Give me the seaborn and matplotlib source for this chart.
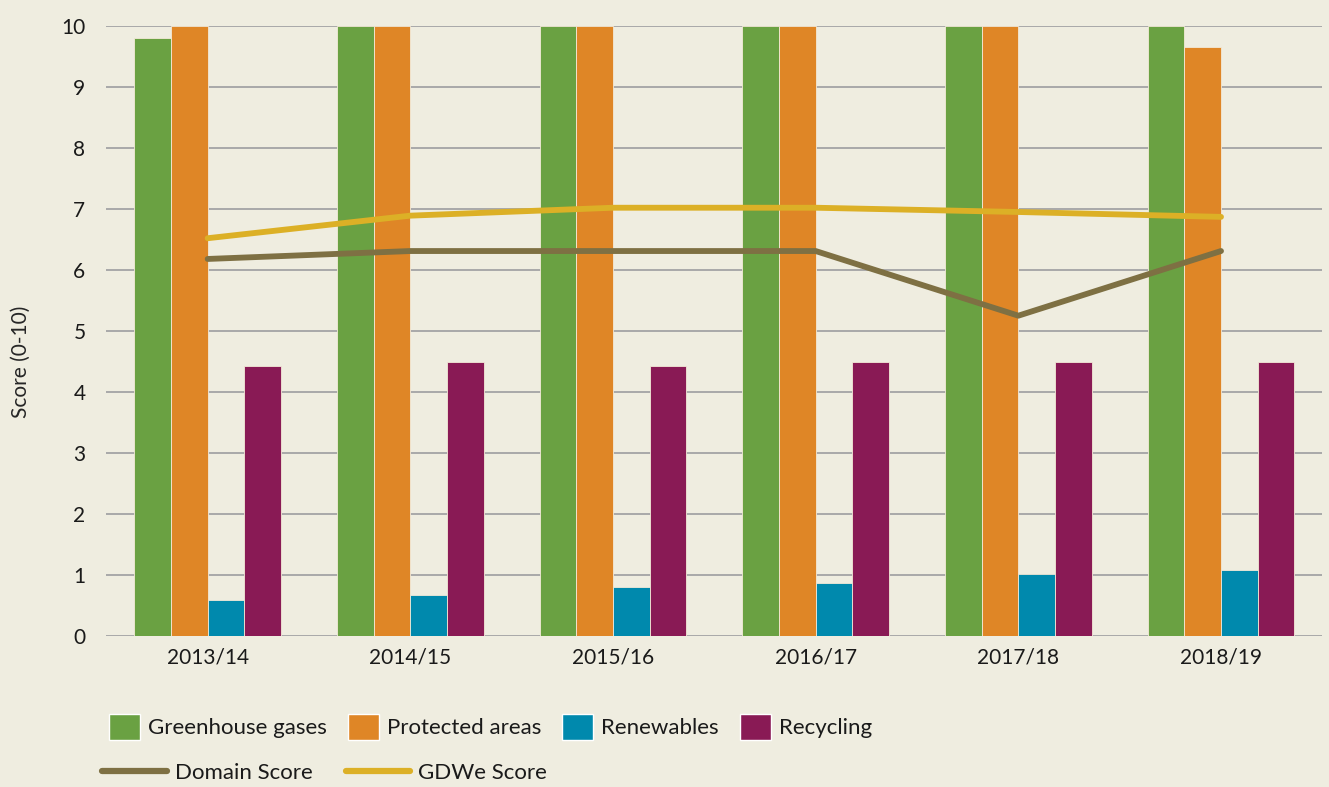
import pandas as pd
import seaborn as sns
import matplotlib.pyplot as plt
from matplotlib.patches import Patch
from matplotlib.lines import Line2D

# values
years = ['2013/14', '2014/15', '2015/16', '2016/17', '2017/18', '2018/19']
greenhouse = [9.8, 10.0, 10.0, 10.0, 10.0, 10.0]
protected = [10.0, 10.0, 10.0, 10.0, 10.0, 9.65]
renewables = [0.59, 0.67, 0.8, 0.87, 1.02, 1.08]
recycling = [4.43, 4.49, 4.43, 4.49, 4.49, 4.49]
domain_score = [6.18, 6.31, 6.31, 6.31, 5.25, 6.31]
gdwe_score = [6.52, 6.89, 7.02, 7.02, 6.95, 6.87]

indicators = ['Greenhouse gases', 'Protected areas', 'Renewables', 'Recycling']
colors = ['#6aa142', '#df8626', '#0089ad', '#891a55']
line_colors = {'Domain Score': '#7e7043', 'GDWe Score': '#dcb026'}
bg = '#efede0'

df = pd.DataFrame({
    'year': years * 4,
    'indicator': [n for n in indicators for _ in years],
    'score': greenhouse + protected + renewables + recycling,
})

sns.set_style('whitegrid')
plt.rcParams['font.family'] = ['Lato', 'DejaVu Sans']
plt.rcParams['text.color'] = '#1a1a1a'

fig = plt.figure(figsize=(13.29, 7.87), dpi=100, facecolor=bg)
ax = fig.add_axes([0.080, 0.192, 0.915, 0.775])
ax.set_facecolor(bg)

sns.barplot(data=df, x='year', y='score', hue='indicator', hue_order=indicators,
            palette=colors, width=0.725, gap=0, saturation=1, ax=ax,
            edgecolor='#f3ead8', linewidth=0.6, legend=False)

# lines sit on the group centres
xs = list(range(len(years)))
sns.lineplot(x=xs, y=domain_score, color=line_colors['Domain Score'], lw=4.2,
             solid_capstyle='round', ax=ax, legend=False)
sns.lineplot(x=xs, y=gdwe_score, color=line_colors['GDWe Score'], lw=4.2,
             solid_capstyle='round', ax=ax, legend=False)

ax.set_xlim(-0.5, len(years) - 0.5)
ax.set_ylim(0, 10)
ax.set_yticks(range(0, 11))
ax.grid(axis='y', color='#a9a9a9', lw=1.4)
ax.grid(axis='x', visible=False)
ax.set_axisbelow(True)
for s in ax.spines.values():
    s.set_visible(False)
ax.tick_params(axis='both', length=0, labelsize=15, colors='#1a1a1a')
ax.tick_params(axis='y', pad=15)
ax.tick_params(axis='x', pad=8)
ax.set_xlabel('')
ax.set_ylabel('Score (0-10)', fontsize=15)
ax.yaxis.set_label_coords(-0.062, 0.45)

bar_handles = [Patch(facecolor=c, label=n) for n, c in zip(indicators, colors)]
fig.legend(handles=bar_handles, loc='center left', bbox_to_anchor=(0.082, 1 - 727 / 787),
           ncol=4, frameon=False, fontsize=16, handlelength=1.4, handleheight=1.45,
           handletextpad=0.35, columnspacing=0.95, borderpad=0, borderaxespad=0)
line_handles = [Line2D([0], [0], color=c, lw=4.5, solid_capstyle='round', label=n)
                for n, c in line_colors.items()]
fig.legend(handles=line_handles, loc='center left', bbox_to_anchor=(0.077, 1 - 773 / 787),
           ncol=2, frameon=False, fontsize=16, handlelength=2.9,
           handletextpad=0.35, columnspacing=1.5, borderpad=0, borderaxespad=0)

fig.savefig('out.png', dpi=100, facecolor=bg)
